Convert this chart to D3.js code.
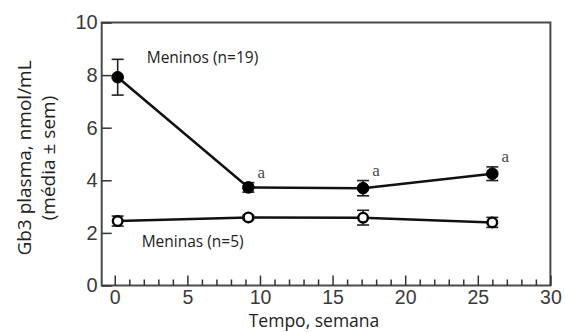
<!DOCTYPE html>
<html>
<head>
<meta charset="utf-8">
<script src="https://cdn.jsdelivr.net/npm/d3@7"></script>
<style>
  html, body { margin: 0; padding: 0; background: #fff; }
  svg { display: block; }
</style>
</head>
<body>
<svg id="chart" width="565" height="332"></svg>
<script>
// Plasma Gb3 over time, mean ± sem, by group
const weeks = [0.2, 9.2, 17.1, 26];
const boysMean = [7.92, 3.73, 3.70, 4.25];
const boysSem = [0.68, 0.18, 0.29, 0.26];
const girlsMean = [2.45, 2.59, 2.58, 2.40];
const girlsSem = [0.19, 0.08, 0.28, 0.19];
const boysSignif = ["", "a", "a", "a"];
const xTicks = [0, 5, 10, 15, 20, 25, 30];
const yTicks = [0, 2, 4, 6, 8, 10];
const boysLabel = "Meninos (n=19)";
const girlsLabel = "Meninas (n=5)";
const yTitle = ["Gb3 plasma, nmol/mL", "(média ± sem)"];
const xTitle = "Tempo, semana";

const svg = d3.select("#chart");
const x = d3.scaleLinear().domain([-0.9, 30]).range([101.7, 550.4]);
const y = d3.scaleLinear().domain([0, 10]).range([285.5, 22.5]);

const sans = "'Open Sans', 'Noto Sans', sans-serif";

// frame
svg.append("rect")
  .attr("x", x(-0.9)).attr("y", y(10))
  .attr("width", x(30) - x(-0.9)).attr("height", y(0) - y(10))
  .attr("fill", "none").attr("stroke", "#4a4a4a").attr("stroke-width", 2);

// minor x ticks (every week)
const minor = d3.range(0, 30).filter(v => v % 5 !== 0);
svg.append("g")
  .attr("transform", `translate(0,${y(0)})`)
  .call(d3.axisBottom(x).tickValues(minor).tickSizeInner(-6).tickSizeOuter(0).tickFormat(""))
  .call(g => g.select(".domain").remove())
  .call(g => g.selectAll(".tick line").attr("stroke", "#333").attr("stroke-width", 1.5));

// major x ticks with labels
svg.append("g")
  .attr("transform", `translate(0,${y(0)})`)
  .call(d3.axisBottom(x).tickValues(xTicks).tickSizeInner(-10).tickSizeOuter(0).tickPadding(5).tickFormat(d3.format("d")))
  .call(g => g.select(".domain").remove())
  .call(g => g.selectAll(".tick line").attr("stroke", "#333").attr("stroke-width", 1.5))
  .call(g => g.selectAll(".tick text")
    .attr("font-family", "'Liberation Sans', Arial, sans-serif")
    .attr("font-size", 19.5).attr("fill", "#3a3a3a"));

// y axis
svg.append("g")
  .attr("transform", `translate(${x(-0.9)},0)`)
  .call(d3.axisLeft(y).tickValues(yTicks).tickSizeInner(-10).tickSizeOuter(0).tickPadding(4).tickFormat(d3.format("d")))
  .call(g => g.select(".domain").remove())
  .call(g => g.selectAll(".tick line").attr("stroke", "#333").attr("stroke-width", 1.5))
  .call(g => g.selectAll(".tick text")
    .attr("font-family", "'Liberation Sans', Arial, sans-serif")
    .attr("font-size", 20).attr("fill", "#3a3a3a"));

// series
function drawSeries(means, sems, filled) {
  const pts = weeks.map((w, i) => ({ w, m: means[i], s: sems[i] }));
  const line = d3.line().x(d => x(d.w)).y(d => y(d.m));
  svg.append("path").datum(pts)
    .attr("d", line).attr("fill", "none")
    .attr("stroke", "#111").attr("stroke-width", 2.5);

  const eb = svg.append("g").attr("stroke", "#222").attr("stroke-width", 1.6);
  pts.forEach(d => {
    eb.append("line").attr("x1", x(d.w)).attr("x2", x(d.w))
      .attr("y1", y(d.m - d.s)).attr("y2", y(d.m + d.s));
    [d.m - d.s, d.m + d.s].forEach(v => {
      eb.append("line").attr("x1", x(d.w) - 6).attr("x2", x(d.w) + 6)
        .attr("y1", y(v)).attr("y2", y(v));
    });
  });

  svg.append("g").selectAll("circle").data(pts).join("circle")
    .attr("cx", d => x(d.w)).attr("cy", d => y(d.m))
    .attr("r", filled ? 5.8 : 4.8)
    .attr("fill", filled ? "#000" : "#fff")
    .attr("stroke", "#000").attr("stroke-width", filled ? 1 : 2.4);
}
drawSeries(girlsMean, girlsSem, false);
drawSeries(boysMean, boysSem, true);

// significance marks
svg.append("g").selectAll("text")
  .data(weeks.map((w, i) => ({ w, top: boysMean[i] + boysSem[i], t: boysSignif[i] })).filter(d => d.t))
  .join("text")
  .attr("x", d => x(d.w) + 13).attr("y", d => y(d.top) - 8)
  .attr("dy", "0.2em")
  .attr("text-anchor", "middle")
  .attr("font-family", "'Liberation Serif', 'DejaVu Serif', serif")
  .attr("font-size", 17).attr("fill", "#4a4a4a")
  .text(d => d.t);

// group labels
svg.append("text").attr("x", x(2.2)).attr("y", y(8.47))
  .attr("font-family", sans).attr("font-size", 15.5).attr("fill", "#222")
  .text(boysLabel);
svg.append("text").attr("x", x(1.85)).attr("y", y(1.45))
  .attr("font-family", sans).attr("font-size", 15.5).attr("fill", "#222")
  .text(girlsLabel);

// axis titles
const yt = svg.append("text")
  .attr("transform", "translate(0,158) rotate(-90)")
  .attr("text-anchor", "middle")
  .attr("font-family", sans).attr("font-size", 19).attr("fill", "#222");
yt.append("tspan").attr("x", 0).attr("y", 31).text(yTitle[0]);
yt.append("tspan").attr("x", 0).attr("y", 55).text(yTitle[1]);

svg.append("text").attr("x", 314).attr("y", 327)
  .attr("text-anchor", "middle")
  .attr("font-family", sans).attr("font-size", 17.5).attr("fill", "#222")
  .text(xTitle);
</script>
</body>
</html>
